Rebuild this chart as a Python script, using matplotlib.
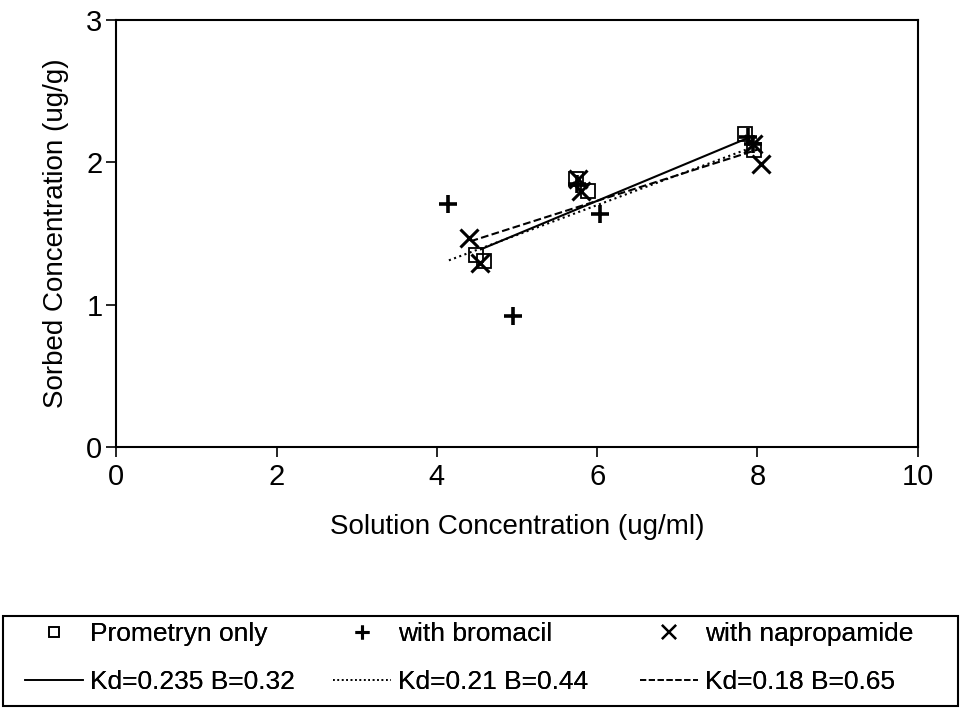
import numpy as np
import matplotlib.pyplot as plt
from matplotlib.lines import Line2D
from matplotlib.patches import Rectangle

plt.rcParams['font.family'] = ['Liberation Sans', 'DejaVu Sans']

# sorption data, solution conc (ug/ml) vs sorbed conc (ug/g)
prom_x = [4.49, 4.59, 5.74, 5.89, 7.84, 7.96]
prom_y = [1.35, 1.31, 1.88, 1.80, 2.20, 2.09]

brom_x = [4.14, 4.95, 5.75, 6.03, 7.88, 7.95]
brom_y = [1.71, 0.92, 1.85, 1.64, 2.18, 2.13]

napr_x = [4.40, 4.54, 5.76, 5.80, 7.94, 8.04]
napr_y = [1.47, 1.29, 1.88, 1.80, 2.13, 1.99]

# linear fits S = Kd*C + B
kd = [0.235, 0.21, 0.18]
b = [0.32, 0.44, 0.65]
fit_range = [(4.55, 7.92), (4.15, 7.95), (4.42, 8.0)]
styles = ['-', ':', '--']

fig = plt.figure(figsize=(9.61, 7.23), dpi=100)
ax = fig.add_axes([0.121, 0.382, 0.834, 0.590])

ax.plot(prom_x, prom_y, 's', ms=10, mfc='none', mec='k', mew=1.3)
ax.plot(brom_x, brom_y, '+', ms=13, mec='k', mew=2.6)
ax.plot(napr_x, napr_y, 'x', ms=13, mec='k', mew=2.2)

for k, bb, (x0, x1), ls in zip(kd, b, fit_range, styles):
    xs = np.array([x0, x1])
    ax.plot(xs, k*xs + bb, color='k', ls=ls, lw=1.5)

ax.set_xlim(0, 10)
ax.set_ylim(0, 3)
ax.set_xticks([0, 2, 4, 6, 8, 10])
ax.set_yticks([0, 1, 2, 3])
ax.tick_params(direction='out', length=7, width=1.2, labelsize=21)
ax.tick_params(axis='x', pad=5)
ax.tick_params(axis='y', pad=3)
for s in ax.spines.values():
    s.set_linewidth(1.5)
ax.set_xlabel('Solution Concentration (ug/ml)', fontsize=20, labelpad=16)
ax.set_ylabel('Sorbed Concentration (ug/g)', fontsize=20, labelpad=12)

# legend box below the plot, one legend per column
fig.patches.append(Rectangle((0.003, 0.0235), 0.994, 0.125, transform=fig.transFigure,
                             fill=False, ec='k', lw=1.5))

cols = [
    (Line2D([], [], ls='none', marker='s', ms=7, mfc='none', mec='k', mew=1.2), 'Prometryn only',
     Line2D([], [], color='k', ls='-', lw=1.2), 'Kd=0.235 B=0.32'),
    (Line2D([], [], ls='none', marker='+', ms=10, mec='k', mew=2.2), 'with bromacil',
     Line2D([], [], color='k', ls=':', lw=1.2), 'Kd=0.21 B=0.44'),
    (Line2D([], [], ls='none', marker='x', ms=10, mec='k', mew=1.6), 'with napropamide',
     Line2D([], [], color='k', ls='--', lw=1.2), 'Kd=0.18 B=0.65'),
]
col_x = [25, 333, 640]
for x, (h1, l1, h2, l2) in zip(col_x, cols):
    lg = fig.legend([h1, h2], [l1, l2], loc='upper left',
                    bbox_to_anchor=(x / 961, 1 - 622 / 723),
                    fontsize=19, frameon=False, borderpad=0, borderaxespad=0,
                    handlelength=2.2, handletextpad=0.25, labelspacing=0.9)
    fig.add_artist(lg)

fig.savefig('out.png', dpi=100)
